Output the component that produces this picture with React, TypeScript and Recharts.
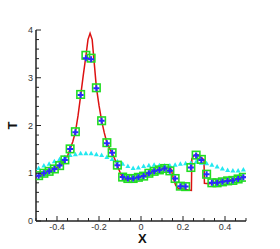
import React from "react";
import { ComposedChart, Line, Scatter, XAxis, YAxis } from "recharts";

// cell centres
const cellX = [
  -0.4875, -0.4625, -0.4375, -0.4125, -0.3875, -0.3625, -0.3375, -0.3125,
  -0.2875, -0.2625, -0.2375, -0.2125, -0.1875, -0.1625, -0.1375, -0.1125,
  -0.0875, -0.0625, -0.0375, -0.0125, 0.0125, 0.0375, 0.0625, 0.0875,
  0.1125, 0.1375, 0.1625, 0.1875, 0.2125, 0.2375, 0.2625, 0.2875,
  0.3125, 0.3375, 0.3625, 0.3875, 0.4125, 0.4375, 0.4625, 0.4875,
];

const blueT = [
  0.95, 1.0, 1.04, 1.09, 1.16, 1.28, 1.51, 1.86,
  2.64, 3.41, 3.39, 2.78, 2.1, 1.63, 1.43, 1.17,
  0.92, 0.89, 0.89, 0.915, 0.94, 1.0, 1.04, 1.07,
  1.1, 1.05, 0.89, 0.73, 0.72, 1.12, 1.37, 1.28,
  0.98, 0.8, 0.8, 0.82, 0.84, 0.85, 0.88, 0.915,
];

const greenT = [
  0.95, 1.0, 1.04, 1.09, 1.16, 1.28, 1.51, 1.87,
  2.65, 3.47, 3.41, 2.79, 2.1, 1.64, 1.43, 1.17,
  0.92, 0.89, 0.89, 0.915, 0.94, 1.0, 1.04, 1.07,
  1.1, 1.05, 0.89, 0.73, 0.72, 1.12, 1.38, 1.29,
  0.98, 0.8, 0.8, 0.82, 0.84, 0.85, 0.88, 0.915,
];

const cyanT = [
  1.11, 1.16, 1.2, 1.25, 1.3, 1.34, 1.38, 1.4,
  1.42, 1.42, 1.42, 1.4, 1.38, 1.34, 1.3, 1.25,
  1.2, 1.15, 1.11, 1.12, 1.15, 1.17, 1.18, 1.17,
  1.16, 1.16, 1.18, 1.2, 1.21, 1.22, 1.24, 1.22,
  1.21, 1.18, 1.14, 1.1, 1.07, 1.06, 1.06, 1.08,
];

// exact solution
const exactX = [
  -0.5, -0.475, -0.45, -0.425, -0.4, -0.375, -0.35, -0.325, -0.3125, -0.3,
  -0.2875, -0.275, -0.2625, -0.2525, -0.2425, -0.2325, -0.2225, -0.2125, -0.2,
  -0.1875, -0.175, -0.1625, -0.15, -0.1375, -0.125, -0.1125, -0.1, -0.0875,
  -0.075, -0.05, -0.025, 0, 0.025, 0.05, 0.075, 0.1, 0.125, 0.1375, 0.145,
  0.155, 0.165, 0.175, 0.2, 0.225, 0.24, 0.242, 0.25, 0.2625, 0.275, 0.29,
  0.3, 0.302, 0.325, 0.35, 0.375, 0.4, 0.425, 0.45, 0.475, 0.5,
];
const exactT = [
  0.93, 0.97, 1.02, 1.06, 1.12, 1.2, 1.36, 1.66, 1.86, 2.2,
  2.62, 3.05, 3.45, 3.8, 3.93, 3.8, 3.3, 2.8, 2.42,
  2.1, 1.85, 1.64, 1.52, 1.42, 1.3, 1.16, 1.02, 0.9,
  0.87, 0.87, 0.9, 0.93, 0.97, 1.02, 1.06, 1.09, 1.12, 1.14, 1.06,
  0.88, 0.75, 0.69, 0.67, 0.65, 0.64, 1.3, 1.36, 1.4, 1.38, 1.32,
  1.28, 0.79, 0.78, 0.8, 0.82, 0.84, 0.86, 0.88, 0.9, 0.92,
];

const xTicks = [
  -0.5, -0.45, -0.4, -0.35, -0.3, -0.25, -0.2, -0.15, -0.1, -0.05, 0,
  0.05, 0.1, 0.15, 0.2, 0.25, 0.3, 0.35, 0.4, 0.45, 0.5,
];
const xLabels = [-0.4, -0.2, 0, 0.2, 0.4];
const yTicks = [
  0, 0.2, 0.4, 0.6, 0.8, 1, 1.2, 1.4, 1.6, 1.8, 2, 2.2, 2.4, 2.6, 2.8, 3,
  3.2, 3.4, 3.6, 3.8, 4,
];
const yLabels = [0, 1, 2, 3, 4];

const exactData = exactX.map((x, i) => ({ x, y: exactT[i] }));
const blueData = cellX.map((x, i) => ({ x, y: blueT[i] }));
const greenData = cellX.map((x, i) => ({ x, y: greenT[i] }));
const cyanData = cellX.map((x, i) => ({ x, y: cyanT[i] }));

const font = "'Liberation Sans', Arial, sans-serif";

const isLabel = (list: number[], v: number) =>
  list.some((l) => Math.abs(l - v) < 1e-6);

const XTick = (props: any) => {
  const { x, y, payload } = props;
  const major = isLabel(xLabels, payload.value);
  return (
    <g>
      <line x1={x} x2={x} y1={y} y2={y - (major ? 5 : 3)} stroke="#222" strokeWidth={1} />
      {major && (
        <text x={x} y={y + 9} textAnchor="middle" fontSize={9} fontFamily={font} fill="#333">
          {String(payload.value)}
        </text>
      )}
    </g>
  );
};

const YTick = (props: any) => {
  const { x, y, payload } = props;
  const major = isLabel(yLabels, payload.value);
  return (
    <g>
      <line x1={x} x2={x + (major ? 5 : 3)} y1={y} y2={y} stroke="#222" strokeWidth={1} />
      {major && (
        <text x={x - 3} y={y + 3} textAnchor="end" fontSize={9} fontFamily={font} fill="#333">
          {String(payload.value)}
        </text>
      )}
    </g>
  );
};

const Square = (props: any) => {
  const { cx, cy } = props;
  return (
    <rect x={cx - 3.75} y={cy - 3.75} width={7.5} height={7.5} fill="none" stroke="#22dd22" strokeWidth={1.6} />
  );
};

const Plus = (props: any) => {
  const { cx, cy } = props;
  return (
    <path d={`M${cx - 3},${cy}H${cx + 3}M${cx},${cy - 3}V${cy + 3}`} stroke="#2a2aff" strokeWidth={2} />
  );
};

const Tri = (props: any) => {
  const { cx, cy } = props;
  return (
    <path d={`M${cx},${cy - 2.5}L${cx + 2.5},${cy + 2}L${cx - 2.5},${cy + 2}Z`} fill="#22e8f0" />
  );
};

export default function App() {
  return (
    <div style={{ position: "absolute", left: 0, top: 0, width: 280, height: 249, background: "#fff" }}>
      <ComposedChart width={280} height={249} margin={{ top: 30, right: 34, bottom: 0, left: 0 }}>
        <XAxis
          dataKey="x"
          type="number"
          domain={[-0.5, 0.5]}
          ticks={xTicks}
          interval={0}
          tickSize={0}
          tickMargin={0}
          tickLine={false}
          tick={<XTick />}
          height={28}
          axisLine={{ stroke: "#222", strokeWidth: 1.5 }}
          allowDataOverflow
        />
        <YAxis
          dataKey="y"
          type="number"
          domain={[0, 4]}
          ticks={yTicks}
          interval={0}
          tickSize={0}
          tickMargin={0}
          tickLine={false}
          tick={<YTick />}
          width={36}
          axisLine={{ stroke: "#222", strokeWidth: 1.5 }}
          allowDataOverflow
        />
        <Scatter data={cyanData} shape={<Tri />} isAnimationActive={false} />
        <Line
          data={exactData}
          dataKey="y"
          type="linear"
          stroke="#dd1111"
          strokeWidth={1.5}
          dot={false}
          isAnimationActive={false}
        />
        <Scatter data={greenData} shape={<Square />} isAnimationActive={false} />
        <Scatter data={blueData} shape={<Plus />} isAnimationActive={false} />
      </ComposedChart>
      <div
        style={{
          position: "absolute",
          left: 138,
          top: 233,
          fontFamily: font,
          fontWeight: "bold",
          fontSize: 13,
          lineHeight: "12px",
          color: "#111",
        }}
      >
        X
      </div>
      <div
        style={{
          position: "absolute",
          left: 9,
          top: 118,
          fontFamily: font,
          fontWeight: "bold",
          fontSize: 13,
          lineHeight: "15px",
          color: "#111",
          transform: "rotate(-90deg)",
        }}
      >
        T
      </div>
    </div>
  );
}
